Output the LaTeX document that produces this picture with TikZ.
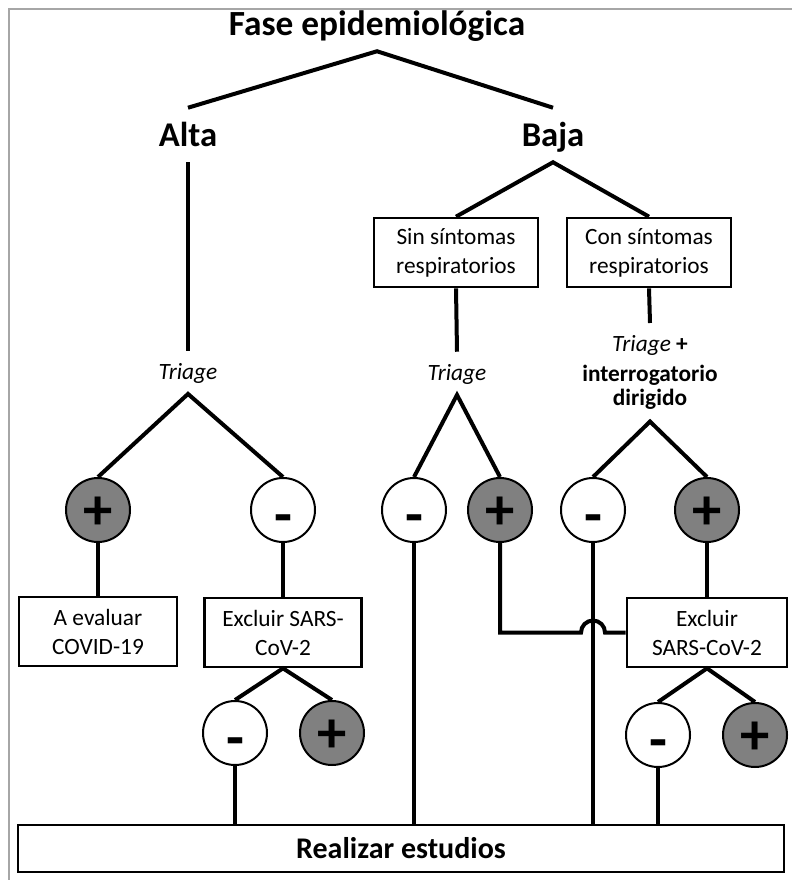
\documentclass[tikz,border=0pt]{standalone}
\usepackage{fontspec}
\setmainfont{Carlito}
\newcommand{\signo}[2]{\raisebox{-#1}[\height][\depth]{#2}}
\begin{document}
\begin{tikzpicture}[x=0.75pt,y=0.75pt,
  fase/.style={font=\bfseries\fontsize{26}{30}\selectfont,text height=18pt,text depth=0pt,inner ysep=11.25pt,anchor=base},
  triage/.style={font=\itshape\fontsize{17.5}{21}\selectfont,text height=12pt,text depth=2pt,inner ysep=9pt,anchor=base},
  caja/.style={draw,line width=2pt,minimum width=119pt,minimum height=51.75pt,align=center,inner sep=0pt,font=\fontsize{17.5}{21.75}\selectfont},
  negativo/.style={circle,draw,line width=1.5pt,minimum size=48pt,inner sep=0pt,fill=white,font=\bfseries\fontsize{44}{44}\selectfont},
  positivo/.style={negativo,fill=gray},
  conn/.style={line width=3pt}]
\useasboundingbox (0,0) rectangle (792,-880);
\draw[gray!70,line width=1pt] (9,-880) -- (9,-9) -- (792,-9);

% niveles superiores
\node[fase,font=\bfseries\fontsize{26.5}{30}\selectfont] (fase) at (377,-36) {Fase epidemiológica};
\node[fase] (alta) at (188,-147) {Alta};
\node[fase] (baja) at (553,-147) {Baja};

\node[caja,minimum width=123pt] (sin) at (456,-252.5) {Sin síntomas\\respiratorios};
\node[caja,minimum width=123pt] (con) at (649,-252.5) {Con síntomas\\respiratorios};

\node[triage] (tri1) at (188,-379) {Triage};
\node[triage] (tri2) at (457,-380) {Triage};
\node[anchor=north,align=center,inner ysep=9pt,font=\fontsize{17.5}{18}\selectfont] (tri3) at (650,-323)
  {\textit{Triage} \textbf{+}\\[4.5pt]\textbf{interrogatorio}\\\textbf{dirigido}};

% resultados
\node[positivo] (p1) at (98,-510) {\signo{2.5pt}{+}};
\node[negativo] (m1) at (283,-510) {\signo{11pt}{-}};
\node[negativo] (m2) at (414,-510) {\signo{11pt}{-}};
\node[positivo] (p2) at (500,-510) {\signo{2.5pt}{+}};
\node[negativo] (m3) at (593,-510) {\signo{11pt}{-}};
\node[positivo] (p3) at (707,-510) {\signo{2.5pt}{+}};

\node[caja,minimum width=118.5pt] (eval) at (98,-631.5) {A evaluar\\COVID-19};
\node[caja,minimum width=117.75pt] (exc1) at (283,-632.5) {Excluir SARS-\\CoV-2};
\node[caja,minimum width=120pt] (exc2) at (707,-632.5) {Excluir\\SARS-CoV-2};

\node[negativo] (m4) at (235,-733) {\signo{11pt}{-}};
\node[positivo] (p4) at (332,-733) {\signo{2.5pt}{+}};
\node[negativo] (m5) at (658,-735) {\signo{11pt}{-}};
\node[positivo] (p5) at (755,-735) {\signo{2.5pt}{+}};

\node[caja,minimum width=574.5pt,minimum height=35.25pt,font=\bfseries\fontsize{22.5}{26}\selectfont] (real) at (401,-848.5) {Realizar estudios};

% conectores
\draw[conn] (alta.north) -- (fase.south) -- (baja.north);
\draw[conn] (alta.south) -- (tri1.north);
\draw[conn] (sin.north) -- (baja.south) -- (con.north);
\draw[conn] (sin.south) -- (tri2.north);
\draw[conn] (con.south) -- (tri3.north);
\draw[conn] (p1.north) -- (tri1.south) -- (m1.north);
\draw[conn] (m2.north) -- (tri2.south) -- (p2.north);
\draw[conn] (m3.north) -- (tri3.south) -- (p3.north);
\draw[conn] (p1.south) -- (eval.north);
\draw[conn] (m1.south) -- (exc1.north);
\draw[conn] (p3.south) -- (exc2.north);
\draw[conn] (m4.north) -- (exc1.south) -- (p4.north);
\draw[conn] (m5.north) -- (exc2.south) -- (p5.north);
\draw[conn] (m4.south) -- (m4.south |- real.north);
\draw[conn] (m2.south) -- (m2.south |- real.north);
\draw[conn] (m3.south) -- (m3.south |- real.north);
\draw[conn] (m5.south) -- (m5.south |- real.north);
\coordinate (hop) at (m3.south |- exc2.west);
\draw[conn] (p2.south) -- (p2.south |- exc2.west) -- ([xshift=-9pt]hop) arc[start angle=180,end angle=0,radius=9pt] -- (exc2.west);
\end{tikzpicture}
\end{document}
